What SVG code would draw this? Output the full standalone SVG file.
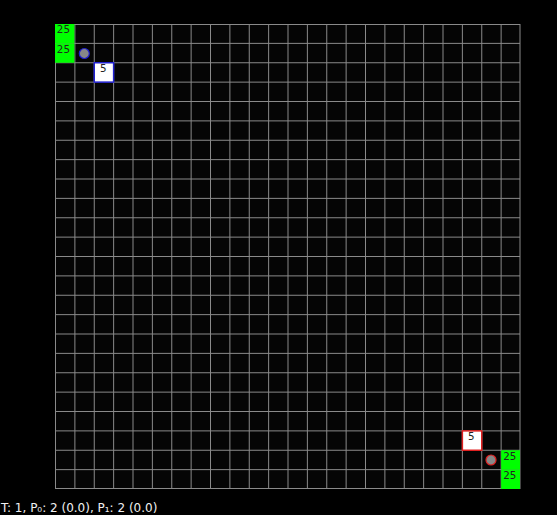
<svg xmlns="http://www.w3.org/2000/svg" width="557" height="515" viewBox="0 0 557 515">
<defs>
<style>
.g{stroke:#8a8a8a;stroke-width:1;fill:none}
.green{fill:#00ff00}
.num{font-family:"DejaVu Sans",sans-serif;font-size:10.3px;fill:#222;text-anchor:middle}
.w{fill:#fff;stroke-width:1.5}
.info{font-family:"DejaVu Sans",sans-serif;font-size:12px;fill:#f0f0f0}
</style>
</defs>
<rect x="0" y="0" width="557" height="515" fill="#000"/>
<g id="board">
<rect x="55" y="24" width="465" height="465" fill="#050505"/>
<g id="gridlines" class="g">
<path d="M55.5 24V489M74.875 24V489M94.25 24V489M113.625 24V489M133 24V489M152.375 24V489M171.75 24V489M191.125 24V489M210.5 24V489M229.875 24V489M249.25 24V489M268.625 24V489M288 24V489M307.375 24V489M326.75 24V489M346.125 24V489M365.5 24V489M384.875 24V489M404.25 24V489M423.625 24V489M443 24V489M462.375 24V489M481.75 24V489M501.125 24V489M520 24V489"/>
<path d="M55 24.5H520M55 43.375H520M55 62.75H520M55 82.125H520M55 101.5H520M55 120.875H520M55 140.25H520M55 159.625H520M55 179H520M55 198.375H520M55 217.75H520M55 237.125H520M55 256.5H520M55 275.875H520M55 295.25H520M55 314.625H520M55 334H520M55 353.375H520M55 372.75H520M55 392.125H520M55 411.5H520M55 430.875H520M55 450.25H520M55 469.625H520M55 488.5H520"/>
</g>
</g>
<g id="p0-base1"><rect class="green" x="55" y="24" width="19.375" height="19.375"/><text class="num" x="63.4" y="33.2">25</text></g>
<g id="p0-base2"><rect class="green" x="55" y="43.375" width="19.375" height="19.375"/><text class="num" x="63.4" y="52.6">25</text></g>
<g id="p0-unit"><circle cx="84.3" cy="53.5" r="5" fill="#888" stroke="#2020d0" stroke-width="1.2"/></g>
<g id="p0-cell"><rect class="w" x="94.25" y="62.75" width="19.375" height="19.375" stroke="#2020d0"/><text class="num" x="103.2" y="72">5</text></g>
<g id="p1-cell"><rect class="w" x="462.375" y="430.875" width="19.375" height="19.375" stroke="#e02020"/><text class="num" x="471.4" y="440.1">5</text></g>
<g id="p1-unit"><circle cx="491" cy="460" r="5" fill="#888" stroke="#e02020" stroke-width="1.2"/></g>
<g id="p1-base1"><rect class="green" x="501.125" y="450.25" width="18.875" height="19.375"/><text class="num" x="509.8" y="459.5">25</text></g>
<g id="p1-base2"><rect class="green" x="501.125" y="469.625" width="18.875" height="19.375"/><text class="num" x="509.8" y="478.9">25</text></g>
<g id="connectors"></g>
<text class="info" x="1" y="512">T: 1, P₀: 2 (0.0), P₁: 2 (0.0)</text>
</svg>
